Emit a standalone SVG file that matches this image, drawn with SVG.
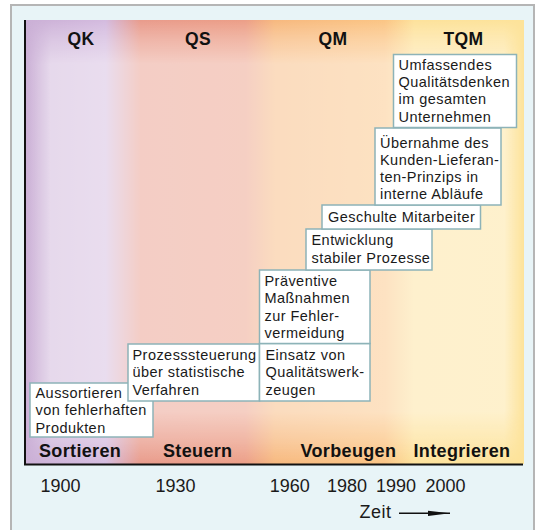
<svg xmlns="http://www.w3.org/2000/svg" width="539" height="530" viewBox="0 0 539 530">
  <defs>
    <!-- saturated phase colours, left to right -->
    <linearGradient id="phases" gradientUnits="userSpaceOnUse" x1="26" y1="0" x2="524" y2="0">
      <stop offset="0" stop-color="#cbb0d6"/>
      <stop offset="0.16" stop-color="#d4bbdf"/>
      <stop offset="0.23" stop-color="#e99c8c"/>
      <stop offset="0.44" stop-color="#ec9f88"/>
      <stop offset="0.50" stop-color="#f7b97f"/>
      <stop offset="0.72" stop-color="#fbc585"/>
      <stop offset="0.78" stop-color="#fde29c"/>
      <stop offset="1" stop-color="#fde39a"/>
    </linearGradient>
    <!-- lightening: strong in the middle, none at the top/bottom bands -->
    <linearGradient id="vfade" gradientUnits="userSpaceOnUse" x1="0" y1="20" x2="0" y2="464">
      <stop offset="0" stop-color="#000"/>
      <stop offset="0.04" stop-color="#777"/>
      <stop offset="0.10" stop-color="#fff"/>
      <stop offset="0.88" stop-color="#fff"/>
      <stop offset="0.95" stop-color="#777"/>
      <stop offset="1" stop-color="#000"/>
    </linearGradient>
    <linearGradient id="hfade" gradientUnits="userSpaceOnUse" x1="26" y1="0" x2="524" y2="0">
      <stop offset="0" stop-color="#000"/>
      <stop offset="0.05" stop-color="#fff"/>
      <stop offset="0.96" stop-color="#fff"/>
      <stop offset="1" stop-color="#000"/>
    </linearGradient>
    <mask id="vmask" maskUnits="userSpaceOnUse" x="0" y="0" width="539" height="530">
      <rect x="26" y="20" width="498" height="444" fill="url(#vfade)"/>
    </mask>
    <mask id="lightMask" maskUnits="userSpaceOnUse" x="0" y="0" width="539" height="530">
      <rect x="26" y="20" width="498" height="444" fill="url(#hfade)" mask="url(#vmask)"/>
    </mask>
    <marker id="arrowHead" viewBox="0 0 22 6" refX="22" refY="3" markerWidth="22" markerHeight="6" markerUnits="userSpaceOnUse" orient="auto">
      <path d="M0,0.4 L22,3 L0,5.6 Z" fill="#111"/>
    </marker>
    <style>
      .step { fill: #ffffff; stroke: #8db3b8; stroke-width: 1.5; }
      .txt { font-family: "Liberation Sans", Arial, sans-serif; font-size: 14.5px; letter-spacing: 0.45px; fill: #1a1a1a; }
      .head { font-family: "Liberation Sans", Arial, sans-serif; font-size: 17.5px; font-weight: bold; letter-spacing: 0.3px; fill: #111; text-anchor: middle; }
      .phase { font-family: "Liberation Sans", Arial, sans-serif; font-size: 18px; font-weight: bold; letter-spacing: 0.35px; fill: #111; }
      .year { font-family: "Liberation Sans", Arial, sans-serif; font-size: 18px; fill: #1a1a1a; }
      .axis { stroke: #111; stroke-width: 2; fill: none; }
    </style>
  </defs>

  <!-- outer panel -->
  <rect x="11" y="5" width="523" height="540" fill="#e8f4f7" stroke="#b5b5b5" stroke-width="2"/>

  <!-- coloured phase background -->
  <rect x="26" y="20" width="498" height="444" fill="url(#phases)"/>
  <rect x="26" y="20" width="498" height="444" fill="#ffffff" opacity="0.5" mask="url(#lightMask)"/>

  <!-- phase headers -->
  <g id="headers">
    <text class="head" x="81" y="44.5">QK</text>
    <text class="head" x="198" y="44.5">QS</text>
    <text class="head" x="333" y="44.5">QM</text>
    <text class="head" x="463.5" y="44.5">TQM</text>
  </g>

  <!-- staircase of measures -->
  <g id="step-sortieren">
    <rect class="step" x="30" y="383" width="123" height="54"/>
    <text class="txt" x="35.5" y="398">Aussortieren</text>
    <text class="txt" x="35.5" y="415.3">von fehlerhaften</text>
    <text class="txt" x="35.5" y="432.6">Produkten</text>
  </g>
  <g id="step-prozesssteuerung">
    <rect class="step" x="128" y="344" width="131.5" height="57"/>
    <text class="txt" x="132.5" y="360">Prozesssteuerung</text>
    <text class="txt" x="132.5" y="377.3">über statistische</text>
    <text class="txt" x="132.5" y="394.6">Verfahren</text>
  </g>
  <g id="step-werkzeuge">
    <rect class="step" x="259.5" y="343.5" width="110.5" height="57.5"/>
    <text class="txt" x="265.5" y="360">Einsatz von</text>
    <text class="txt" x="265.5" y="377.3">Qualitätswerk-</text>
    <text class="txt" x="265.5" y="394.6">zeugen</text>
  </g>
  <g id="step-praevention">
    <rect class="step" x="259.5" y="270" width="110.5" height="73.5"/>
    <text class="txt" x="264.5" y="286">Präventive</text>
    <text class="txt" x="264.5" y="303.3">Maßnahmen</text>
    <text class="txt" x="264.5" y="320.6">zur Fehler-</text>
    <text class="txt" x="264.5" y="337.9">vermeidung</text>
  </g>
  <g id="step-prozesse">
    <rect class="step" x="306" y="229" width="126" height="41"/>
    <text class="txt" x="311.5" y="245">Entwicklung</text>
    <text class="txt" x="311.5" y="262.5">stabiler Prozesse</text>
  </g>
  <g id="step-mitarbeiter">
    <rect class="step" x="322" y="205" width="158.5" height="24"/>
    <text class="txt" x="328" y="222">Geschulte Mitarbeiter</text>
  </g>
  <g id="step-kunden">
    <rect class="step" x="375" y="128" width="126" height="77"/>
    <text class="txt" x="380" y="147.5">Übernahme des</text>
    <text class="txt" x="380" y="164.8">Kunden-Lieferan-</text>
    <text class="txt" x="380" y="182.1">ten-Prinzips in</text>
    <text class="txt" x="380" y="199.4">interne Abläufe</text>
  </g>
  <g id="step-tqm">
    <rect class="step" x="393.5" y="54.5" width="123" height="73"/>
    <text class="txt" x="398.5" y="69.8">Umfassendes</text>
    <text class="txt" x="398.5" y="87.1">Qualitätsdenken</text>
    <text class="txt" x="398.5" y="104.4">im gesamten</text>
    <text class="txt" x="398.5" y="121.7">Unternehmen</text>
  </g>

  <!-- phase names along the time axis -->
  <g id="phase-labels">
    <text class="phase" x="39" y="456.5">Sortieren</text>
    <text class="phase" x="163" y="456.5">Steuern</text>
    <text class="phase" x="300.5" y="456.5">Vorbeugen</text>
    <text class="phase" x="413.5" y="456.5">Integrieren</text>
  </g>

  <!-- axes -->
  <g id="axes">
    <path class="axis" d="M25,20 V465 M24,464.5 H523"/>
  </g>

  <!-- years and time arrow -->
  <g id="years">
    <text class="year" x="40.5" y="491.7">1900</text>
    <text class="year" x="155.5" y="491.7">1930</text>
    <text class="year" x="269.7" y="491.7">1960</text>
    <text class="year" x="327" y="491.7">1980</text>
    <text class="year" x="376" y="491.7">1990</text>
    <text class="year" x="425.4" y="491.7">2000</text>
    <text class="year" x="359.5" y="518.3" letter-spacing="0.5">Zeit</text>
  </g>
  <g id="connectors">
    <line x1="399" y1="513.3" x2="450" y2="513.3" stroke="#111" stroke-width="1.5" marker-end="url(#arrowHead)"/>
  </g>
</svg>
